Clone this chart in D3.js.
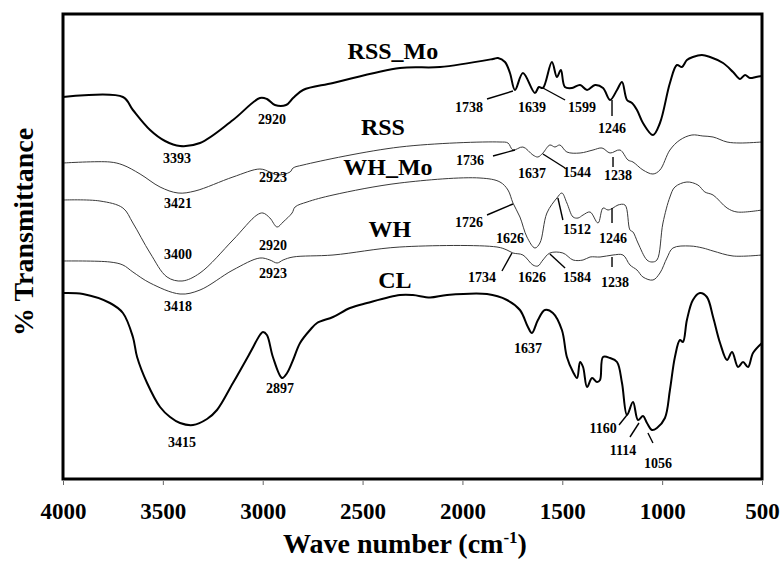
<!DOCTYPE html>
<html>
<head>
<meta charset="utf-8">
<script src="https://cdn.jsdelivr.net/npm/d3@7/dist/d3.min.js"></script>
<style>
	body { margin: 0; background: #fff; }
	svg text { font-family: "Liberation Serif", "Times New Roman", serif; font-weight: bold; fill: #000; }
	.frame { fill: none; stroke: #000; stroke-width: 3; }
	.spec { fill: none; stroke-linejoin: round; }
	.spec.thick { stroke: #000; stroke-width: 2; }
	.spec.thin { stroke: #3a3a3a; stroke-width: 1; }
	.lead { stroke: #000; stroke-width: 1.4; }
	.peak { font-size: 14px; }
	.name { font-size: 24px; }
	.tick-lab { font-size: 23px; }
	.axis-title { font-size: 28px; }
</style>
</head>
<body>
<div id="chart" style="width:782px;height:563px"></div>
<script>
// spectra: [wave number (cm-1), transmittance (a.u., offset)]
var RSS_Mo = [[4000,76.4],[3700,76.4],[3650,73.8],[3564,69.8],[3489,67.6],[3414,66.6],[3314,67.2],[3149,71.8],
	[3014,76.2],[2979,76.0],[2939,74.8],[2883,74.8],[2848,76.2],[2798,77.8],[2648,79.2],[2313,82.2],[2112,82.4],
	[1847,84.0],[1822,84.2],[1787,83.4],[1762,81.2],[1737,77.8],[1697,81.2],[1637,77.2],[1617,78.4],[1597,78.2],
	[1552,83.4],[1527,80.4],[1507,81.8],[1487,78.4],[1451,78.2],[1411,78.8],[1376,77.8],[1336,78.8],[1296,78.2],
	[1261,75.8],[1226,77.8],[1201,79.4],[1176,75.8],[1151,75.2],[1126,73.8],[1096,71.2],[1046,68.8],[1011,71.2],
	[961,79.2],[926,82.8],[901,82.4],[876,83.8],[846,84.4],[801,84.8],[760,84.4],[695,83.2],[645,81.4],[610,80.0],
	[585,80.8],[560,80.2],[530,80.4],[500,80.6]];
var RSS = [[4000,63.2],[3765,63.4],[3700,62.8],[3614,61.0],[3514,58.4],[3424,57.2],[3339,57.6],[3149,60.4],
	[3014,62.0],[2964,61.4],[2924,60.8],[2863,61.4],[2848,62.2],[2798,62.8],[2313,66.4],[1812,67.4],[1772,67.2],
	[1747,65.8],[1697,66.4],[1647,64.8],[1622,64.4],[1597,65.2],[1562,66.8],[1537,66.4],[1512,66.8],[1477,65.4],
	[1411,65.2],[1346,65.8],[1301,66.2],[1261,65.2],[1211,65.8],[1171,63.8],[1146,63.4],[1096,61.8],[1046,61.0],
	[1011,61.8],[961,65.8],[911,67.8],[851,68.8],[796,68.6],[745,68.4],[675,67.4],[610,67.2],[500,67.4]];
var WH_Mo = [[4000,55.8],[3815,55.6],[3700,54.2],[3650,51.2],[3564,45.2],[3479,40.4],[3404,39.6],[3314,41.2],
	[3149,47.8],[3029,52.8],[2999,53.2],[2964,52.2],[2928,50.4],[2898,51.4],[2853,53.2],[2838,54.4],[2778,55.4],
	[2648,56.8],[2313,59.2],[1912,60.2],[1812,59.4],[1772,57.8],[1747,55.2],[1712,52.4],[1677,48.4],[1637,46.2],
	[1612,47.2],[1577,53.2],[1527,56.2],[1502,57.2],[1477,55.2],[1446,52.4],[1421,52.2],[1396,52.8],[1361,53.4],
	[1321,51.2],[1296,54.2],[1271,53.8],[1246,54.2],[1221,54.8],[1186,54.8],[1161,49.8],[1146,49.4],[1121,47.2],
	[1076,43.8],[1051,43.4],[1026,43.8],[996,51.2],[961,56.4],[936,58.4],[876,59.4],[821,58.8],[786,57.4],
	[745,56.8],[675,54.2],[625,53.4],[500,53.8]];
var WH = [[4000,43.6],[3765,43.4],[3700,42.8],[3650,41.4],[3564,39.2],[3414,37.0],[3314,37.8],[3149,41.8],
	[3014,44.2],[2964,43.8],[2928,43.2],[2898,43.8],[2848,44.4],[2648,44.8],[2313,46.4],[1827,46.4],[1777,45.8],
	[1747,45.2],[1697,44.8],[1647,42.8],[1622,42.6],[1597,43.8],[1562,45.2],[1497,45.2],[1446,43.8],[1396,43.8],
	[1361,44.4],[1311,44.4],[1246,44.8],[1196,44.8],[1161,42.8],[1126,41.8],[1096,40.4],[1046,39.8],[1011,41.2],
	[976,44.2],[946,46.2],[861,46.6],[796,46.2],[745,45.6],[645,44.6],[500,44.8]];
var CL = [[4000,37.2],[3900,37.0],[3765,35.2],[3700,33.2],[3650,28.4],[3629,24.4],[3579,19.2],[3514,14.4],
	[3464,12.4],[3414,11.2],[3349,10.8],[3279,12.0],[3229,13.8],[3149,19.2],[3064,25.2],[3014,28.8],[2999,29.4],
	[2979,28.8],[2949,24.4],[2903,20.2],[2878,21.2],[2848,23.8],[2813,27.2],[2763,29.8],[2728,31.2],[2648,32.4],
	[2563,34.2],[2478,35.2],[2313,36.8],[2248,36.8],[2162,36.3],[2077,36.8],[1877,37.0],[1777,35.8],[1712,33.8],
	[1672,30.4],[1652,29.2],[1622,31.8],[1587,33.8],[1547,33.2],[1502,29.8],[1477,24.4],[1446,21.4],[1426,20.2],
	[1411,23.4],[1396,22.4],[1376,18.4],[1351,20.2],[1326,19.4],[1311,19.8],[1296,24.4],[1261,24.2],[1226,23.4],
	[1201,19.2],[1176,12.8],[1146,15.4],[1121,11.8],[1096,12.6],[1076,11.2],[1051,9.8],[1026,10.2],[986,12.2],
	[961,17.8],[936,24.4],[911,27.8],[896,27.4],[876,31.8],[846,35.8],[811,37.2],[776,36.4],[745,32.4],[710,27.2],
	[675,23.8],[650,25.4],[620,22.4],[595,23.4],[570,22.4],[545,25.2],[500,27.2]];

var seriesNames = ["RSS_Mo", "RSS", "WH_Mo", "WH", "CL"];
var seriesData = [RSS_Mo, RSS, WH_Mo, WH, CL];
var seriesThick = [true, false, false, false, true];
// name label anchor [wave number, value]
var nameAnchors = [[2348, 84.0], [2398, 68.8], [2373, 60.8], [2363, 48.4], [2338, 38.2]];

var xTicks = [4000, 3500, 3000, 2500, 2000, 1500, 1000, 500];

// peak labels: [text, wave number, value, leader line (optional) [w1, v1, w2, v2]]
var peaks = [
	["3393", 3429, 64.2], ["2920", 2954, 72.0],
	["1738", 1967, 74.4, [1877, 76.0, 1747, 77.6]], ["1639", 1652, 74.4],
	["1599", 1401, 74.4, [1486, 75.8, 1597, 78.2]], ["1246", 1251, 70.2, [1251, 75.8, 1251, 72.6]],
	["3421", 3424, 55.2], ["2923", 2949, 60.4],
	["1736", 1962, 63.8, [1847, 64.6, 1737, 65.8]], ["1637", 1652, 61.2],
	["1544", 1426, 61.4, [1597, 65.0, 1486, 62.2]], ["1238", 1221, 60.8, [1246, 64.4, 1246, 62.4]],
	["3400", 3424, 45.0], ["2920", 2949, 46.8],
	["1726", 1967, 51.4, [1877, 52.8, 1747, 55.0]], ["1626", 1762, 48.2],
	["1512", 1426, 50.0, [1522, 56.2, 1497, 51.8]], ["1246", 1246, 48.2, [1251, 54.2, 1251, 51.2]],
	["3418", 3424, 34.6], ["2923", 2949, 41.2],
	["1734", 1902, 40.4, [1802, 41.6, 1752, 45.2]], ["1626", 1652, 40.4],
	["1584", 1426, 40.4, [1562, 45.0, 1486, 42.2]], ["1238", 1236, 39.4, [1251, 44.4, 1251, 42.4]],
	["3415", 3404, 7.4], ["2897", 2913, 18.2], ["1637", 1672, 26.2],
	["1160", 1296, 10.2, [1216, 10.8, 1176, 12.8]],
	["1114", 1196, 5.8, [1161, 8.4, 1116, 11.2]],
	["1056", 1021, 3.2, [1046, 7.2, 1071, 9.2]]
];

var el = document.getElementById("chart");
var margin = {top: 14, right: 20, bottom: 84, left: 63};
var width = el.clientWidth - margin.left - margin.right;
var height = el.clientHeight - margin.top - margin.bottom;

var svg = d3.select(el).append("svg")
	.attr("width", el.clientWidth)
	.attr("height", el.clientHeight);
var g = svg.append("g")
	.attr("transform", "translate(" + margin.left + "," + margin.top + ")");

var x = d3.scaleLinear().domain([4000, 500]).range([0, width]);
var y = d3.scaleLinear().domain([0, 93]).range([height, 0]);

// spectra
var line = d3.line()
	.x(function(d) { return x(d[0]); })
	.y(function(d) { return y(d[1]); })
	.curve(d3.curveCatmullRom.alpha(0.5));

g.selectAll(".spec")
	.data(seriesData)
	.enter().append("path")
	.attr("class", function(d, i) { return "spec " + (seriesThick[i] ? "thick" : "thin"); })
	.attr("d", line);

// series names
g.selectAll(".name")
	.data(seriesNames)
	.enter().append("text")
	.attr("class", "name")
	.attr("text-anchor", "middle")
	.attr("x", function(d, i) { return x(nameAnchors[i][0]); })
	.attr("y", function(d, i) { return y(nameAnchors[i][1]); })
	.text(function(d) { return d; });

// peak leaders + labels
g.selectAll(".lead")
	.data(peaks.filter(function(p) { return p[3]; }))
	.enter().append("line")
	.attr("class", "lead")
	.attr("x1", function(p) { return x(p[3][0]); })
	.attr("y1", function(p) { return y(p[3][1]); })
	.attr("x2", function(p) { return x(p[3][2]); })
	.attr("y2", function(p) { return y(p[3][3]); });

g.selectAll(".peak")
	.data(peaks)
	.enter().append("text")
	.attr("class", "peak")
	.attr("text-anchor", "middle")
	.attr("dy", "0.35em")
	.attr("x", function(p) { return x(p[1]); })
	.attr("y", function(p) { return y(p[2]); })
	.text(function(p) { return p[0]; });

// x axis
var xAxis = g.append("g")
	.attr("transform", "translate(0," + height + ")")
	.call(d3.axisBottom(x).tickValues(xTicks).tickSize(6).tickFormat(d3.format("d")));
xAxis.select(".domain").remove();
xAxis.selectAll(".tick line").attr("stroke", "#666").attr("y1", 2);
xAxis.selectAll(".tick text")
	.attr("class", "tick-lab")
	.attr("y", 24)
	.attr("dy", "0.71em");
xAxis.attr("font-family", null).attr("font-size", null);

// frame
g.append("rect")
	.attr("class", "frame")
	.attr("width", width)
	.attr("height", height);

// axis titles
var title = svg.append("text")
	.attr("class", "axis-title")
	.attr("text-anchor", "middle")
	.attr("x", 405)
	.attr("y", 553);
title.append("tspan").text("Wave number (cm");
title.append("tspan").attr("dy", -10).attr("font-size", "17px").text("-1");
title.append("tspan").attr("dy", 10).text(")");

svg.append("text")
	.attr("class", "axis-title")
	.attr("text-anchor", "middle")
	.attr("transform", "translate(33,232) rotate(-90)")
	.text("% Transmittance");
</script>
</body>
</html>
